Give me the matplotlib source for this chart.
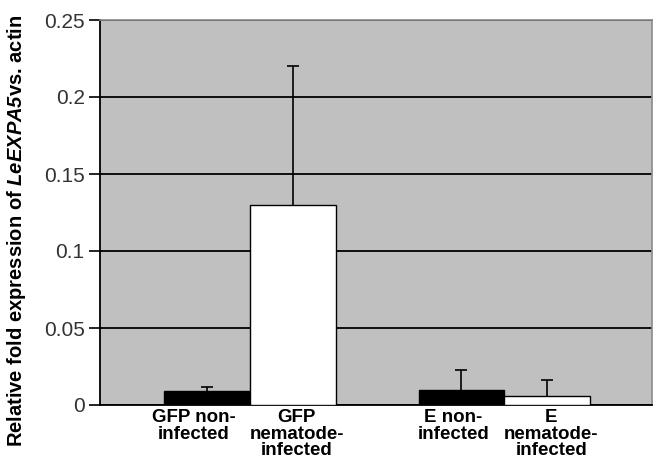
import matplotlib.pyplot as plt
import matplotlib.transforms as mtransforms
import numpy as np

# values
groups = ["GFP", "E"]
series = ["non-infected", "nematode-infected"]
values_non = [0.009, 0.010]
values_nem = [0.130, 0.006]
err_non = [0.003, 0.013]
err_nem = [0.090, 0.010]
tick_labels = ["GFP non-\ninfected", "GFP\nnematode-\ninfected",
               "E non-\ninfected", "E\nnematode-\ninfected"]
yticks = [0, 0.05, 0.1, 0.15, 0.2, 0.25]

plt.rcParams['font.family'] = ['Liberation Sans', 'DejaVu Sans']
plt.rcParams['mathtext.fontset'] = 'custom'
plt.rcParams['mathtext.bfit'] = 'Liberation Sans:italic:bold'
plt.rcParams['mathtext.bf'] = 'Liberation Sans:bold'

fig = plt.figure(figsize=(6.53, 4.66), dpi=100)
ax = fig.add_axes([100 / 653, 1 - 405 / 466, 552 / 653, 385 / 466])

x = np.arange(len(groups))
w = 0.337
ax.bar(x - w / 2, values_non, w, color='black', edgecolor='black', linewidth=1, zorder=3)
ax.bar(x + w / 2, values_nem, w, color='white', edgecolor='black', linewidth=1, zorder=3)
# symmetric bars drawn behind the columns so only the upper half shows
ax.errorbar(x - w / 2, values_non, yerr=err_non, fmt='none',
            ecolor='black', elinewidth=1.2, capsize=4, capthick=1.2, zorder=2)
ax.errorbar(x + w / 2, values_nem, yerr=err_nem, fmt='none',
            ecolor='black', elinewidth=1.2, capsize=4, capthick=1.2, zorder=2)

ax.set_facecolor('#c0c0c0')
ax.set_xlim(-0.588, 1.58)
ax.set_ylim(0, 0.25)
ax.set_yticks(yticks)
ax.set_yticklabels(['0', '0.05', '0.1', '0.15', '0.2', '0.25'], fontsize=15, color='#333333')
ax.yaxis.grid(True, color='black', linewidth=1.3, zorder=1)
ax.set_axisbelow(True)
ax.tick_params(axis='y', length=8, width=1.2, pad=3)

pos = np.concatenate([[xi - w / 2, xi + w / 2] for xi in x])
ax.set_xticks(pos)
ax.set_xticklabels(tick_labels, fontsize=13.5, fontweight='bold', linespacing=0.95,
                   multialignment='center')
ax.tick_params(axis='x', length=0, pad=3)

# nudge labels sideways like the original layout (pixels)
shifts = [-13, 4, -8, 4]
for lab, dx in zip(ax.get_xticklabels(), shifts):
    off = mtransforms.ScaledTranslation(dx / 100, 0, fig.dpi_scale_trans)
    lab.set_transform(lab.get_transform() + off)

for side in ['top', 'right']:
    ax.spines[side].set_color('#8a8a8a')
    ax.spines[side].set_linewidth(1.2)
ax.spines['left'].set_linewidth(1.3)
ax.spines['bottom'].set_linewidth(1.3)

fig.text(17 / 653, 0.505, r"Relative fold expression of $\mathbfit{LeEXPA5}$vs. actin",
         rotation=90, ha='center', va='center', fontsize=14.5, fontweight='bold')

fig.savefig('out.png', dpi=100)
